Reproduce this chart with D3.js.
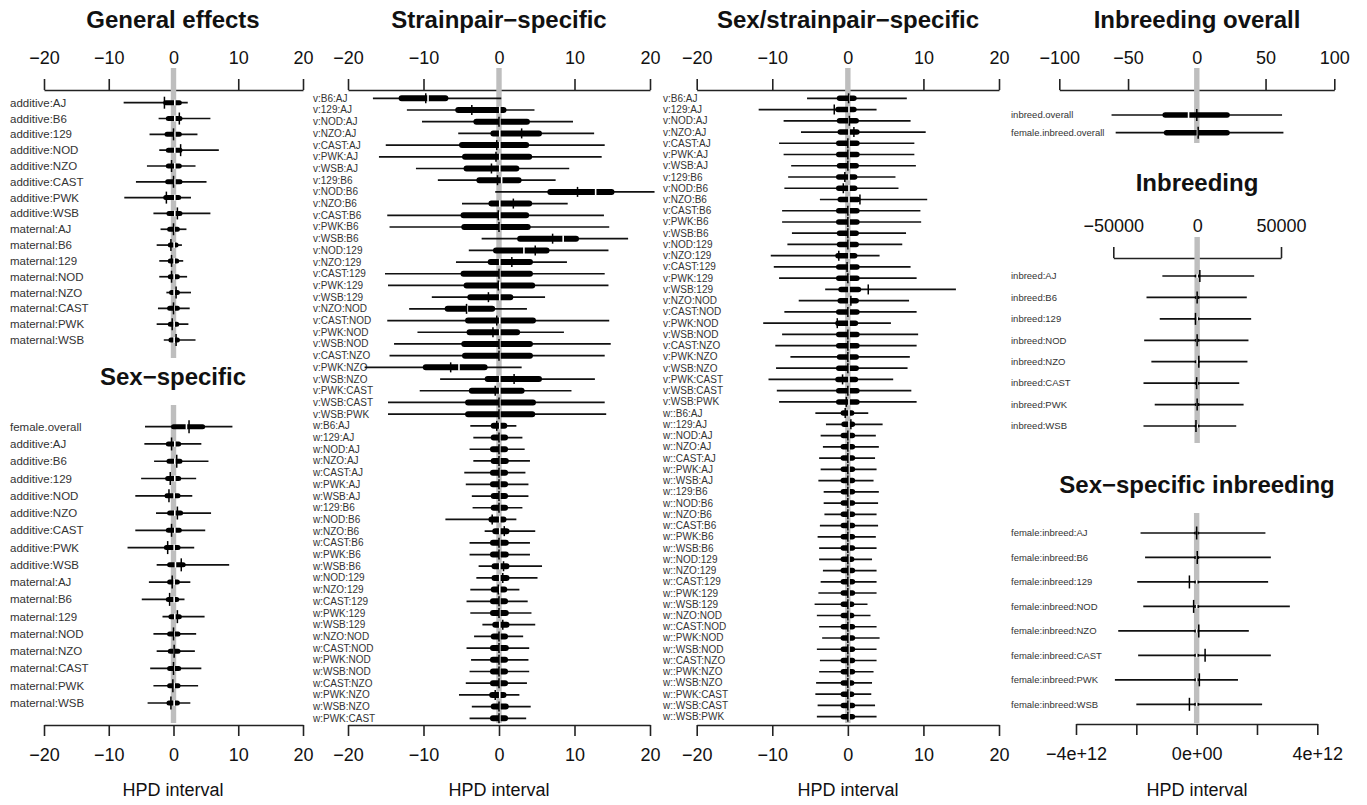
<!DOCTYPE html>
<html>
<head>
<meta charset="utf-8">
<script src="https://cdn.jsdelivr.net/npm/d3@7"></script>
<style>
body { margin: 0; background: #fff; }
text { font-family: "Liberation Sans", Arial, Helvetica, sans-serif; }
</style>
</head>
<body>
<div id="chart"></div>
<script>
// caterpillar plots of HPD intervals, one row per effect

var strains = ["AJ", "B6", "129", "NOD", "NZO", "CAST", "PWK", "WSB"];

function pairLabels(prefix) {
  var out = [];
  for (var i = 0; i < strains.length; i++) {
    for (var j = i + 1; j < strains.length; j++) {
      out.push(prefix + strains[j] + ":" + strains[i]);
    }
  }
  return out;
}

// ---- General effects
var genLabels = strains.map(function(s) { return "additive:" + s; })
  .concat(strains.map(function(s) { return "maternal:" + s; }));
var genLo  = [-7.7, -2.3, -3.7, -2.2, -4.1, -5.8, -7.6, -3.1, -2.0, -2.6, -2.2, -2.2, -1.1, -2.4, -2.6, -1.5];
var genQ1  = [-1.2, -0.8, -1.0, -0.8, -0.8, -0.9, -1.2, -0.7, -0.6, -0.5, -0.5, -0.5, -0.3, -0.6, -0.5, -0.4];
var genQ3  = [0.9, 1.0, 0.9, 1.0, 0.9, 1.0, 0.8, 1.0, 0.6, 0.4, 0.5, 0.6, 0.6, 0.6, 0.5, 0.6];
var genHi  = [2.2, 5.7, 3.7, 7.0, 3.4, 5.1, 2.7, 5.7, 2.0, 1.3, 1.5, 2.1, 2.7, 2.5, 2.3, 3.4];
var genMed = [-1.4, 0.9, 0.0, 1.1, -0.3, 0.0, -1.1, 0.6, 0.0, -0.4, -0.3, -0.3, 0.4, 0.0, -0.2, 0.4];
var genAvg = [0.2, 0.2, 0.2, 0.2, 0.2, 0.2, 0.2, 0.2, 0.1, 0.1, 0.1, 0.1, 0.1, 0.1, 0.1, 0.1];

// ---- Sex-specific
var sexLabels = ["female.overall"].concat(genLabels);
var sexLo  = [-4.4, -4.5, -3.0, -5.0, -5.9, -2.7, -5.9, -7.1, -2.6, -3.8, -4.9, -1.7, -3.1, -2.6, -3.6, -3.1, -4.0];
var sexQ1  = [0.0, -0.8, -0.7, -0.9, -1.0, -0.6, -0.8, -1.1, -0.6, -0.6, -0.8, -0.4, -0.6, -0.5, -0.6, -0.6, -0.7];
var sexQ3  = [4.5, 0.8, 1.0, 0.8, 0.7, 1.1, 0.9, 0.7, 1.5, 0.6, 0.5, 0.9, 0.7, 0.7, 0.8, 0.7, 0.6];
var sexHi  = [9.1, 4.3, 5.4, 3.5, 2.9, 5.8, 4.9, 3.2, 8.6, 2.6, 1.7, 4.8, 3.5, 3.3, 4.3, 3.8, 2.6];
var sexMed = [2.4, -0.3, 0.5, -0.5, -0.7, 0.6, -0.3, -0.9, 1.2, -0.2, -0.6, 0.6, 0.0, 0.1, 0.0, -0.1, -0.4];
var sexAvg = [2.0, 0.2, 0.2, 0.2, 0.1, 0.2, 0.2, 0.1, 0.3, 0.1, 0.1, 0.2, 0.1, 0.1, 0.1, 0.1, 0.1];

// ---- Strainpair-specific (v: 28 rows, w: 26 rows)
var spLabels = pairLabels("v:").concat(pairLabels("w:").slice(0, 26));
var spLo = [-16.7, -12.2, -10.2, -5.4, -15.0, -15.9, -11.0, -8.1, -0.5, -4.9, -14.8, -14.5, -2.3, -4.0,
  -5.7, -15.1, -14.7, -8.9, -11.9, -14.8, -10.8, -13.9, -14.5, -17.8, -7.8, -10.5, -14.7, -14.7,
  -3.8, -3.4, -3.9, -3.4, -4.6, -4.4, -3.6, -3.5, -7.1, -1.9, -3.9, -3.9, -2.7, -3.0,
  -3.8, -4.3, -3.8, -2.2, -3.3, -4.3, -3.7, -3.9, -4.4, -5.3, -3.6, -3.9];
var spQ1 = [-12.9, -5.4, -3.0, -0.75, -4.9, -4.5, -4.3, -2.6, 6.8, -1.0, -4.7, -4.6, 2.8, -0.4,
  -1.1, -4.7, -4.3, -3.8, -6.8, -4.1, -3.9, -4.6, -4.5, -9.7, -1.5, -3.6, -4.1, -4.1,
  -0.7, -0.7, -0.8, -0.7, -0.8, -0.8, -0.7, -0.7, -1.0, -0.5, -0.8, -0.8, -0.6, -0.6,
  -0.7, -0.8, -0.8, -0.5, -0.7, -0.8, -0.8, -0.8, -0.8, -0.9, -0.7, -0.8];
var spQ3 = [-7.1, 0.6, 3.7, 5.3, 3.6, 4.0, 2.3, 2.6, 14.9, 4.0, 3.6, 3.8, 10.2, 6.3,
  4.1, 4.1, 4.4, 1.5, -0.9, 4.5, 2.4, 4.1, 4.1, -1.9, 5.3, 3.0, 4.5, 4.4,
  0.7, 0.8, 0.8, 0.9, 0.8, 0.8, 0.8, 0.8, 0.6, 1.0, 0.9, 0.9, 1.0, 1.0,
  0.7, 0.8, 0.9, 1.0, 0.8, 0.9, 0.8, 0.8, 0.8, 0.6, 0.9, 0.8];
var spHi = [0.3, 4.7, 9.8, 12.6, 14.0, 13.6, 9.3, 7.5, 20.6, 9.1, 13.9, 14.6, 17.1, 14.5,
  9.0, 14.0, 14.5, 6.1, 3.7, 14.6, 8.6, 14.8, 14.0, 3.0, 12.7, 9.6, 14.0, 14.2,
  2.3, 3.1, 3.4, 4.1, 3.5, 3.9, 3.9, 3.1, 2.3, 4.8, 4.1, 4.1, 5.7, 5.1,
  2.7, 3.8, 4.3, 4.8, 3.2, 4.0, 3.9, 4.0, 3.7, 2.7, 4.2, 3.6];
var spMed = [-9.7, -3.6, 0.0, 3.0, -0.3, -0.4, -1.0, -0.2, 10.4, 1.9, -0.1, 0.0, 7.1, 4.8,
  1.7, 0.0, -0.1, -1.4, -4.3, -0.3, -0.8, 0.0, 0.0, -6.4, 2.0, -0.5, 0.0, 0.0,
  -0.3, 0.0, 0.0, 0.0, 0.0, 0.0, 0.0, 0.0, -0.9, 0.7, 0.0, 0.0, 0.6, 0.5,
  -0.1, 0.0, 0.0, 0.5, 0.0, 0.0, 0.0, 0.0, 0.0, -0.5, 0.0, 0.0];
var spAvg = [-9.4, 0.1, 0.1, 0.1, 0.1, 0.1, 0.1, 0.35, 12.8, 0.1, 0.1, 0.1, 8.5, 3.3,
  0.1, 0.1, 0.1, 0.1, -4.2, 0.1, 0.1, 0.1, 0.1, -5.3, 0.1, 0.1, 0.1, 0.1,
  0.1, 0.1, 0.1, 0.1, 0.1, 0.1, 0.1, 0.1, 0.1, 0.1, 0.1, 0.1, 0.1, 0.1,
  0.1, 0.1, 0.1, 0.1, 0.1, 0.1, 0.1, 0.1, 0.1, 0.1, 0.1, 0.1];

// ---- Sex/strainpair-specific (v: 28 rows, w:: 28 rows)
var sspLabels = pairLabels("v:").concat(pairLabels("w::"));
var sspLo = [-5.4, -11.8, -8.5, -6.2, -9.1, -8.5, -7.5, -7.9, -8.4, -3.7, -8.7, -8.7, -7.4, -8.0,
  -10.2, -9.8, -9.1, -3.0, -6.5, -8.4, -11.2, -8.7, -9.6, -7.6, -9.5, -10.5, -9.4, -9.1,
  -4.3, -2.9, -3.6, -3.3, -3.8, -3.6, -3.9, -3.2, -3.2, -3.1, -3.7, -4.0, -3.8, -3.8,
  -3.3, -3.6, -3.9, -4.4, -4.1, -3.8, -3.4, -4.1, -3.7, -3.8, -4.2, -4.3, -4.0, -4.1];
var sspQ1 = [-1.1, -1.3, -1.1, -1.0, -1.2, -1.2, -1.1, -1.2, -1.2, -1.0, -1.2, -1.2, -1.1, -1.1,
  -1.3, -1.2, -1.2, -0.9, -1.0, -1.2, -1.3, -1.2, -1.2, -1.1, -1.2, -1.3, -1.2, -1.2,
  -0.6, -0.5, -0.6, -0.6, -0.6, -0.6, -0.6, -0.6, -0.6, -0.6, -0.6, -0.6, -0.6, -0.6,
  -0.6, -0.6, -0.6, -0.6, -0.6, -0.6, -0.6, -0.6, -0.6, -0.6, -0.6, -0.6, -0.6, -0.6];
var sspQ3 = [0.8, 0.8, 1.1, 1.2, 1.2, 1.2, 1.1, 0.9, 0.9, 1.3, 1.2, 1.2, 1.1, 1.1,
  0.9, 1.2, 1.2, 1.4, 1.1, 1.2, 1.0, 1.2, 1.2, 1.1, 1.1, 1.0, 1.2, 1.2,
  0.5, 0.6, 0.6, 0.6, 0.6, 0.6, 0.6, 0.6, 0.6, 0.6, 0.6, 0.6, 0.6, 0.5,
  0.6, 0.6, 0.6, 0.5, 0.5, 0.6, 0.6, 0.6, 0.6, 0.6, 0.5, 0.5, 0.6, 0.6];
var sspHi = [7.8, 3.8, 8.3, 10.3, 8.8, 8.8, 9.0, 6.3, 6.7, 10.5, 9.6, 9.7, 7.7, 7.2,
  4.2, 8.3, 9.1, 14.3, 8.1, 9.1, 5.7, 9.3, 9.1, 8.2, 7.9, 6.0, 8.4, 9.1,
  2.7, 4.6, 3.7, 4.1, 3.6, 3.8, 3.4, 4.1, 4.0, 3.8, 4.0, 3.7, 3.8, 3.2,
  3.8, 3.8, 3.8, 2.6, 3.0, 3.8, 4.2, 3.8, 3.8, 3.4, 3.2, 3.1, 3.6, 3.8];
var sspMed = [0.1, -1.8, 0.2, 0.8, 0.0, 0.0, 0.0, -0.4, -0.6, 1.6, 0.0, 0.0, 0.0, 0.0,
  -1.2, -0.1, 0.0, 2.7, 0.4, 0.0, -1.4, 0.0, 0.0, 0.0, 0.0, -0.7, 0.0, -0.2,
  -0.35, 0.4, 0.0, 0.0, 0.0, 0.0, 0.0, 0.0, 0.0, 0.0, 0.0, 0.0, 0.0, 0.0,
  0.0, 0.0, 0.0, 0.0, 0.0, 0.0, 0.0, 0.0, 0.0, 0.0, 0.0, 0.0, 0.0, 0.0];
var sspAvg = sspMed.map(function() { return 0.15; });

// ---- Inbreeding overall
var ovLabels = ["inbreed.overall", "female.inbreed.overall"];
var ovLo = [-62, -59], ovQ1 = [-23, -22], ovQ3 = [22, 22], ovHi = [62, 63];
var ovMed = [0, 1], ovAvg = [-6, 0.5];

// ---- Inbreeding
var inbLabels = strains.map(function(s) { return "inbreed:" + s; });
var inbLo  = [-20750, -30200, -22300, -31600, -27300, -32000, -25300, -32000];
var inbQ1  = [-800, -600, -800, -600, -700, -700, -600, -700];
var inbQ3  = [700, 600, 700, 600, 700, 600, 600, 600];
var inbHi  = [34000, 29600, 32200, 30600, 30000, 25100, 27700, 23300];
var inbMed = [1600, 0, -1000, 0, 1000, -300, 0, -700];
var inbAvg = [0, 0, 0, 0, 0, 0, 0, 0];

// ---- Sex-specific inbreeding (values in units of 1e12)
var sinbLabels = strains.map(function(s) { return "female:inbreed:" + s; });
var sinbLo  = [-1.86, -1.71, -1.97, -1.77, -2.6, -1.94, -2.71, -2.0];
var sinbQ1  = [-0.04, -0.04, -0.04, -0.04, -0.04, -0.04, -0.04, -0.04];
var sinbQ3  = [0.04, 0.04, 0.04, 0.04, 0.04, 0.04, 0.04, 0.04];
var sinbHi  = [2.28, 2.46, 2.37, 3.09, 1.73, 2.46, 1.37, 2.17];
var sinbMed = [0.0, 0.02, -0.24, -0.1, 0.07, 0.28, 0.09, -0.24];
var sinbAvg = [0, 0, 0, 0, 0, 0, 0, 0];

var ticks20 = [-20, -10, 0, 10, 20];
var ticksOv = [-100, -50, 0, 50, 100];
var ticksInb = [-50000, 0, 50000];
var ticksSinb = [-4, -2, 0, 2, 4];

var svg = d3.select("#chart").append("svg")
  .attr("width", 1367)
  .attr("height", 805);

function title(x, y, txt) {
  svg.append("text")
    .attr("x", x).attr("y", y).attr("dy", "0.35em")
    .attr("text-anchor", "middle")
    .style("font-size", "24px").style("font-weight", "bold")
    .attr("fill", "#111")
    .text(txt);
}

function addAxis(scale, side, yLine, ticks, fmt) {
  var ax = (side == "top" ? d3.axisTop(scale) : d3.axisBottom(scale))
    .tickValues(ticks).tickSizeInner(11).tickSizeOuter(0)
    .tickPadding(side == "top" ? 15 : 12).tickFormat(fmt);
  var g = svg.append("g").attr("transform", "translate(0," + yLine + ")").call(ax);
  g.select(".domain").attr("stroke", "#222").attr("stroke-width", 1.6);
  g.selectAll(".tick line").attr("stroke", "#222").attr("stroke-width", 1.6);
  g.selectAll(".tick text")
    .attr("fill", "#111")
    .style("font-size", "18px")
    .style("font-family", '"Liberation Sans", Arial, Helvetica, sans-serif');
}

function xlab(x) {
  svg.append("text")
    .attr("x", x).attr("y", 790).attr("dy", "0.35em")
    .attr("text-anchor", "middle")
    .style("font-size", "18px").attr("fill", "#111")
    .text("HPD interval");
}

function drawRows(p) {
  var y = d3.scalePoint().domain(p.labels).range([p.y0, p.y1]);
  var x = p.x;
  var rows = p.labels.map(function(l, i) {
    return {label: l, lo: p.lo[i], q1: p.q1[i], q3: p.q3[i], hi: p.hi[i], med: p.med[i], avg: p.avg[i]};
  });
  var g = svg.append("g");

  // grey reference band at zero
  g.append("rect")
    .attr("x", x(0) - 2.7).attr("width", 5.4)
    .attr("y", p.bandTop).attr("height", p.bandBot - p.bandTop)
    .attr("fill", "#bebebe");

  g.selectAll(".lab").data(rows).enter().append("text")
    .attr("x", p.labelX).attr("y", function(d) { return y(d.label); })
    .attr("dy", "0.35em")
    .style("font-size", p.fs + "px")
    .attr("fill", "#333")
    .text(function(d) { return d.label; });

  g.selectAll(".thin").data(rows).enter().append("line")
    .attr("x1", function(d) { return x(d.lo); })
    .attr("x2", function(d) { return x(d.hi); })
    .attr("y1", function(d) { return y(d.label); })
    .attr("y2", function(d) { return y(d.label); })
    .attr("stroke", "#111").attr("stroke-width", 1.7);

  g.selectAll(".thick").data(rows).enter().append("line")
    .attr("x1", function(d) { return x(d.q1); })
    .attr("x2", function(d) { return x(d.q3); })
    .attr("y1", function(d) { return y(d.label); })
    .attr("y2", function(d) { return y(d.label); })
    .attr("stroke", "#000").attr("stroke-width", p.thickW)
    .attr("stroke-linecap", "round");

  g.selectAll(".avg").data(rows.filter(function(d) { return d.avg > d.q1 && d.avg < d.q3; }))
    .enter().append("line")
    .attr("x1", function(d) { return x(d.avg); })
    .attr("x2", function(d) { return x(d.avg); })
    .attr("y1", function(d) { return y(d.label) - p.thickW / 2 - 0.5; })
    .attr("y2", function(d) { return y(d.label) + p.thickW / 2 + 0.5; })
    .attr("stroke", "#fff").attr("stroke-width", 1.6);

  g.selectAll(".med").data(rows).enter().append("line")
    .attr("x1", function(d) { return x(d.med); })
    .attr("x2", function(d) { return x(d.med); })
    .attr("y1", function(d) { return y(d.label) - p.tickH; })
    .attr("y2", function(d) { return y(d.label) + p.tickH; })
    .attr("stroke", "#000").attr("stroke-width", 1.5);
}

var fmtNum = d3.format("d");

// ---- panel 1
var x1 = d3.scaleLinear().domain([-20, 20]).range([44, 303]);
title(173, 20, "General effects");
addAxis(x1, "top", 90, ticks20, fmtNum);
drawRows({labels: genLabels, lo: genLo, q1: genQ1, q3: genQ3, hi: genHi, med: genMed, avg: genAvg,
  x: x1, y0: 102.7, y1: 340, bandTop: 68, bandBot: 358, labelX: 10, fs: 11.5, thickW: 5, tickH: 6});
title(173, 377, "Sex\u2212specific");
drawRows({labels: sexLabels, lo: sexLo, q1: sexQ1, q3: sexQ3, hi: sexHi, med: sexMed, avg: sexAvg,
  x: x1, y0: 426.7, y1: 703, bandTop: 405, bandBot: 723, labelX: 10, fs: 11.5, thickW: 5, tickH: 6.5});
addAxis(x1, "bottom", 725, ticks20, fmtNum);
xlab(173);

// ---- panel 2
var x2 = d3.scaleLinear().domain([-20, 20]).range([348, 650]);
title(499, 20, "Strainpair\u2212specific");
addAxis(x2, "top", 90, ticks20, fmtNum);
drawRows({labels: spLabels, lo: spLo, q1: spQ1, q3: spQ3, hi: spHi, med: spMed, avg: spAvg,
  x: x2, y0: 98.3, y1: 718.3, bandTop: 68, bandBot: 723, labelX: 313, fs: 10, thickW: 6, tickH: 5});
addAxis(x2, "bottom", 725, ticks20, fmtNum);
xlab(499);

// ---- panel 3
var x3 = d3.scaleLinear().domain([-20, 20]).range([696.7, 999]);
title(848, 20, "Sex/strainpair\u2212specific");
addAxis(x3, "top", 90, ticks20, fmtNum);
drawRows({labels: sspLabels, lo: sspLo, q1: sspQ1, q3: sspQ3, hi: sspHi, med: sspMed, avg: sspAvg,
  x: x3, y0: 98.3, y1: 716.7, bandTop: 68, bandBot: 723, labelX: 663, fs: 10, thickW: 5.5, tickH: 5});
addAxis(x3, "bottom", 725, ticks20, fmtNum);
xlab(848);

// ---- panel 4
var x4a = d3.scaleLinear().domain([-100, 100]).range([1059.3, 1334.3]);
title(1197, 20, "Inbreeding overall");
addAxis(x4a, "top", 90, ticksOv, fmtNum);
drawRows({labels: ovLabels, lo: ovLo, q1: ovQ1, q3: ovQ3, hi: ovHi, med: ovMed, avg: ovAvg,
  x: x4a, y0: 115, y1: 132.7, bandTop: 68, bandBot: 143, labelX: 1011, fs: 9.5, thickW: 5.5, tickH: 6});

var x4b = d3.scaleLinear().domain([-50000, 50000]).range([1113.3, 1281]);
title(1197, 183, "Inbreeding");
addAxis(x4b, "top", 258, ticksInb, fmtNum);
drawRows({labels: inbLabels, lo: inbLo, q1: inbQ1, q3: inbQ3, hi: inbHi, med: inbMed, avg: inbAvg,
  x: x4b, y0: 276, y1: 426, bandTop: 237, bandBot: 443, labelX: 1011, fs: 9.5, thickW: 3, tickH: 6});

var x4c = d3.scaleLinear().domain([-4, 4]).range([1076, 1317.3]);
title(1197, 485, "Sex\u2212specific inbreeding");
drawRows({labels: sinbLabels, lo: sinbLo, q1: sinbQ1, q3: sinbQ3, hi: sinbHi, med: sinbMed, avg: sinbAvg,
  x: x4c, y0: 533, y1: 704.3, bandTop: 513, bandBot: 723, labelX: 1011, fs: 9.5, thickW: 3, tickH: 6.5});
addAxis(x4c, "bottom", 724, ticksSinb, function(d) {
  if (d == 0) return "0e+00";
  if (Math.abs(d) == 2) return "";
  return (d < 0 ? "\u2212" : "") + Math.abs(d) + "e+12";
});
xlab(1197);
</script>
</body>
</html>
